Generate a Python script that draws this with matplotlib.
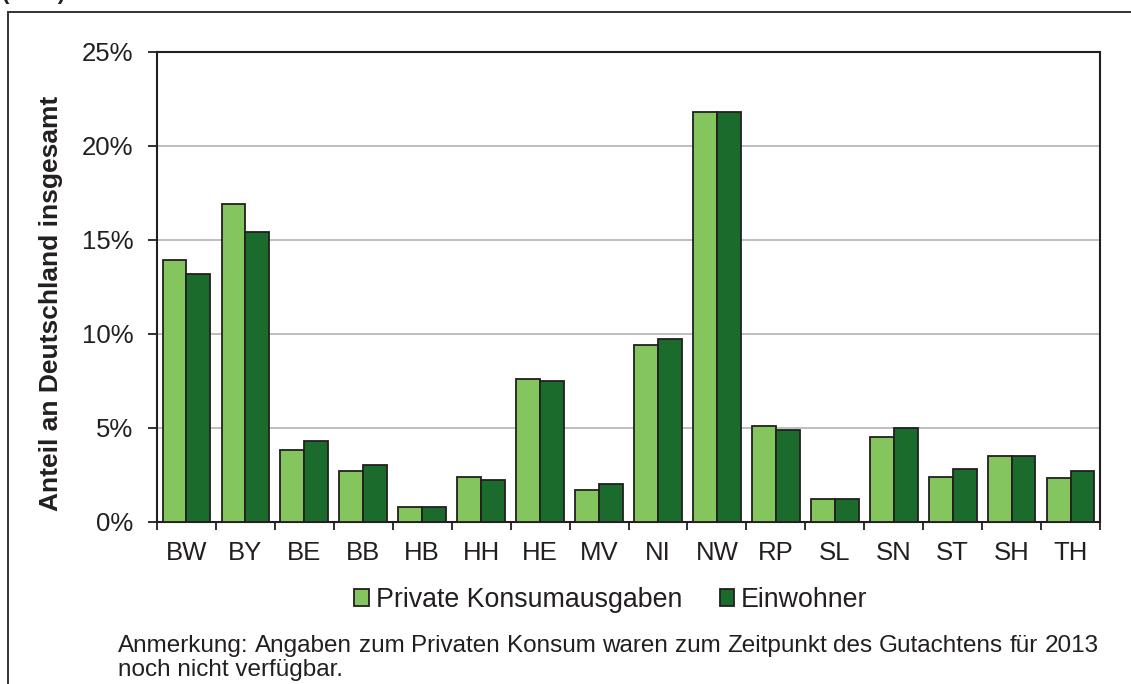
import matplotlib
matplotlib.use("Agg")
import matplotlib.pyplot as plt
from matplotlib.patches import Rectangle, Patch
from matplotlib.ticker import FuncFormatter, FixedLocator

plt.rcParams['font.family'] = ['Liberation Sans', 'DejaVu Sans']

categories = ["BW", "BY", "BE", "BB", "HB", "HH", "HE", "MV", "NI", "NW",
              "RP", "SL", "SN", "ST", "SH", "TH"]
konsum = [13.9, 16.9, 3.8, 2.7, 0.8, 2.4, 7.6, 1.7, 9.4, 21.8,
          5.1, 1.2, 4.5, 2.4, 3.5, 2.3]
einwohner = [13.2, 15.4, 4.3, 3.0, 0.8, 2.2, 7.5, 2.0, 9.7, 21.8,
             4.9, 1.2, 5.0, 2.8, 3.5, 2.7]
yticks = [0, 5, 10, 15, 20, 25]
series_names = ["Private Konsumausgaben", "Einwohner"]
ylabel = "Anteil an Deutschland insgesamt"
note_line1 = "Anmerkung: Angaben zum Privaten Konsum waren zum Zeitpunkt des Gutachtens f\u00fcr 2013"
note_line2 = "noch nicht verf\u00fcgbar."
header = "(2012)"

LIGHT = "#85C55D"
DARK = "#1A6B2C"
EDGE = "#231F20"
TXT = "#231F20"

W, H = 1131, 684
fig = plt.figure(figsize=(W / 100, H / 100), dpi=100)
ax = fig.add_axes([157 / W, 1 - 521.7 / H, (1100 - 157) / W, (521.7 - 51.7) / H])

x = list(range(len(categories)))
bw = 0.405
ax.bar([i - bw / 2 for i in x], konsum, width=bw, color=LIGHT, edgecolor=EDGE,
       linewidth=1.3, zorder=3, label=series_names[0])
ax.bar([i + bw / 2 for i in x], einwohner, width=bw, color=DARK, edgecolor=EDGE,
       linewidth=1.3, zorder=3, label=series_names[1])

ax.set_xlim(-0.5, len(categories) - 0.5)
ax.set_ylim(0, 25)
ax.set_yticks(yticks)
ax.yaxis.set_major_formatter(FuncFormatter(lambda v, p: f"{v:.0f}%"))
ax.set_xticks(x)
ax.set_xticklabels(categories)
ax.xaxis.set_minor_locator(FixedLocator([i - 0.5 for i in range(len(categories) + 1)]))
ax.tick_params(axis='x', which='major', length=0, pad=14, labelsize=18.5, colors=TXT)
ax.tick_params(axis='x', which='minor', length=6, width=1.3, direction='out', color=EDGE)
ax.tick_params(axis='y', length=6.5, width=1.3, pad=10.5, labelsize=18.5, color=EDGE,
               labelcolor=TXT)

ax.yaxis.grid(True, color="#BEBEBE", linewidth=1.4, zorder=0)
ax.set_axisbelow(True)
for s in ax.spines.values():
    s.set_color(EDGE)
    s.set_linewidth(1.5)

fig.text(51 / W, 1 - 303 / H, ylabel, rotation=90, ha='center', va='center',
         fontsize=19, fontweight='bold', color=TXT)

handles = [Patch(facecolor=LIGHT, edgecolor=EDGE, linewidth=1.3),
           Patch(facecolor=DARK, edgecolor=EDGE, linewidth=1.3)]
fig.legend(handles, series_names, loc='center', bbox_to_anchor=(611 / W, 1 - 600 / H),
           ncol=2, frameon=False, fontsize=19.3, handlelength=0.55, handleheight=0.55,
           handletextpad=0.25, columnspacing=1.4, labelcolor=TXT,
           borderpad=0, borderaxespad=0)

# justified note, first line spread over the full width as in the reference
fig.canvas.draw()
renderer = fig.canvas.get_renderer()
words = note_line1.split(" ")
x_left, x_right = 118, 1099
base1, base2 = 652, 676
tmp = [fig.text(0, 0, w, fontsize=17.5, color=TXT) for w in words]
widths = [t.get_window_extent(renderer).width for t in tmp]
for t in tmp:
    t.remove()
gap = (x_right - x_left - sum(widths)) / (len(words) - 1)
xpos = x_left
for w, wd in zip(words, widths):
    fig.text(xpos / W, 1 - base1 / H, w, ha='left', va='baseline', fontsize=17.5, color=TXT)
    xpos += wd + gap
fig.text(x_left / W, 1 - base2 / H, note_line2, ha='left', va='baseline',
         fontsize=17.5, color=TXT)

fig.text(2 / W, 1 + 1 / H, header, ha='left', va='baseline', fontsize=16,
         fontweight='bold', color=TXT)

fig.patches.append(Rectangle((8 / W, -0.1), 1.2, (1 - 12 / H) + 0.1,
                             transform=fig.transFigure, fill=False,
                             edgecolor="#333333", linewidth=1.4))

fig.savefig("out.png", dpi=100)
